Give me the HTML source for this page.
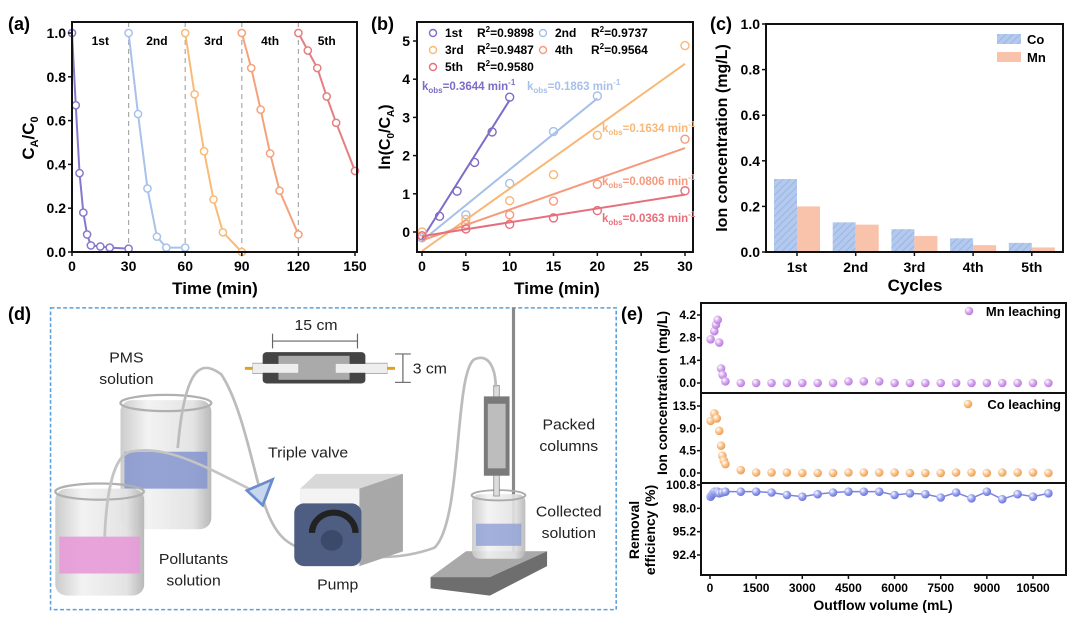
<!DOCTYPE html>
<html><head><meta charset="utf-8"><style>
html,body{margin:0;padding:0;background:#fff;}
svg{display:block;font-family:"Liberation Sans",Arial,sans-serif;}
.b{font-weight:bold;}
</style></head><body>
<svg id="fig" width="1080" height="622" viewBox="0 0 1080 622" xmlns="http://www.w3.org/2000/svg">
<defs>
<pattern id="hatch" width="5" height="5" patternUnits="userSpaceOnUse" patternTransform="rotate(45)">
<rect width="5" height="5" fill="#b3c9ee"/><line x1="0" y1="0" x2="0" y2="5" stroke="#9bb5e3" stroke-width="2"/>
</pattern>
<radialGradient id="gMn" cx="0.35" cy="0.35" r="0.7"><stop offset="0" stop-color="#fff"/><stop offset="0.5" stop-color="#d6a6ee"/><stop offset="1" stop-color="#b57ad6"/></radialGradient>
<radialGradient id="gCo" cx="0.35" cy="0.35" r="0.7"><stop offset="0" stop-color="#fff"/><stop offset="0.5" stop-color="#f9c48c"/><stop offset="1" stop-color="#ec9a4e"/></radialGradient>
<radialGradient id="gRe" cx="0.35" cy="0.35" r="0.7"><stop offset="0" stop-color="#fff"/><stop offset="0.5" stop-color="#9aa4ee"/><stop offset="1" stop-color="#6670d8"/></radialGradient>
<linearGradient id="glass" x1="0" x2="1"><stop offset="0" stop-color="#c9c9c9"/><stop offset="0.3" stop-color="#f2f2f2"/><stop offset="0.8" stop-color="#e2e2e2"/><stop offset="1" stop-color="#b5b5b5"/></linearGradient>
</defs>

<text x="8" y="30" font-size="18" class="b">(a)</text>
<text x="371" y="30" font-size="18" class="b">(b)</text>
<text x="710" y="30" font-size="18" class="b">(c)</text>
<text x="8" y="320" font-size="18" class="b">(d)</text>
<text x="621" y="320" font-size="18" class="b">(e)</text>

<g id="pa"></g>
<g id="pb"></g>
<g id="pc"></g>
<g id="pe"></g>

<g transform="translate(0,282) scale(0.395,0.369)">
<rect x="128" y="70" width="1432" height="818" fill="none" stroke="#5aa0dc" stroke-width="4" stroke-dasharray="10,6"/>
<line x1="1300" y1="70" x2="1300" y2="740" stroke="#8a8a8a" stroke-width="8"/>
<polygon points="1090,800 1180,730 1385,730 1385,770 1240,850 1090,830" fill="#6e6e6e"/>
<polygon points="1090,800 1180,730 1385,730 1240,800" fill="#a9a9a9"/>
<rect x="1195" y="575" width="135" height="175" rx="20" fill="url(#glass)" opacity="0.9"/>
<rect x="1205" y="655" width="115" height="60" fill="#8f9fd6" opacity="0.8"/>
<ellipse cx="1262" cy="578" rx="68" ry="14" fill="none" stroke="#aaa" stroke-width="5"/>
<rect x="1250" y="280" width="14" height="300" fill="#ddd" stroke="#888" stroke-width="2"/>
<rect x="1225" y="310" width="65" height="215" fill="#7a7a7a"/>
<rect x="1235" y="330" width="45" height="175" fill="#bdbdbd"/>
<rect x="305" y="320" width="230" height="350" rx="30" fill="url(#glass)" opacity="0.95"/>
<rect x="315" y="460" width="210" height="100" fill="#8494cf" opacity="0.85"/>
<ellipse cx="420" cy="328" rx="115" ry="22" fill="none" stroke="#b0b0b0" stroke-width="6"/>
<rect x="140" y="560" width="225" height="290" rx="30" fill="url(#glass)" opacity="0.95"/>
<rect x="150" y="690" width="205" height="100" fill="#e79ad8" opacity="0.9"/>
<ellipse cx="252" cy="568" rx="112" ry="22" fill="none" stroke="#b0b0b0" stroke-width="6"/>
<path d="M450,450 C470,200 520,220 560,250 C610,330 640,500 660,570 C690,680 720,720 800,730 C900,745 1000,760 1100,720 C1170,650 1150,250 1200,210 C1240,190 1255,240 1255,285" fill="none" stroke="#bcbcbc" stroke-width="7"/>
<path d="M265,690 C270,560 290,470 330,460 C420,440 520,500 630,560" fill="none" stroke="#c4c4c4" stroke-width="7"/>
<polygon points="625,565 690,535 665,605" fill="#c8d6ee" stroke="#6a8ccc" stroke-width="7"/>
<polygon points="760,560 800,520 1020,520 1020,730 910,770 760,770" fill="#d8d8d8"/>
<rect x="760" y="560" width="150" height="210" fill="#f3f3f3"/>
<polygon points="910,560 1020,520 1020,730 910,770" fill="#a8a8a8"/>
<rect x="745" y="600" width="170" height="170" rx="25" fill="#4e5e82"/>
<path d="M790,680 A55,55 0 0 1 900,680" fill="none" stroke="#222" stroke-width="16"/>
<circle cx="840" cy="700" r="28" fill="#3b4a6a"/>
<rect x="620" y="230" width="40" height="8" fill="#e0a020"/>
<rect x="975" y="230" width="25" height="8" fill="#e0a020"/>
<rect x="640" y="220" width="340" height="28" fill="#e8e8e8" stroke="#999" stroke-width="2"/>
<rect x="665" y="190" width="260" height="85" rx="10" fill="#444"/>
<rect x="705" y="200" width="180" height="65" fill="#aaa"/>
<rect x="640" y="222" width="115" height="24" fill="#eee"/>
<rect x="850" y="222" width="130" height="24" fill="#eee"/>
<line x1="690" y1="160" x2="905" y2="160" stroke="#666" stroke-width="3"/>
<line x1="690" y1="140" x2="690" y2="180" stroke="#666" stroke-width="3"/>
<line x1="905" y1="140" x2="905" y2="180" stroke="#666" stroke-width="3"/>
<line x1="1020" y1="195" x2="1020" y2="272" stroke="#666" stroke-width="3"/>
<line x1="1000" y1="195" x2="1040" y2="195" stroke="#666" stroke-width="3"/>
<line x1="1000" y1="272" x2="1040" y2="272" stroke="#666" stroke-width="3"/>
<g font-size="40" fill="#222">
<text x="800" y="130" text-anchor="middle">15 cm</text>
<text x="1045" y="248">3 cm</text>
<text x="320" y="218" text-anchor="middle">PMS</text>
<text x="320" y="276" text-anchor="middle">solution</text>
<text x="780" y="476" text-anchor="middle">Triple valve</text>
<text x="490" y="764" text-anchor="middle">Pollutants</text>
<text x="490" y="822" text-anchor="middle">solution</text>
<text x="855" y="834" text-anchor="middle">Pump</text>
<text x="1440" y="400" text-anchor="middle">Packed</text>
<text x="1440" y="458" text-anchor="middle">columns</text>
<text x="1440" y="636" text-anchor="middle">Collected</text>
<text x="1440" y="694" text-anchor="middle">solution</text>
</g>
</g>
</svg>
<script>
const NS='http://www.w3.org/2000/svg';
function mk(tag,attrs,parent){const e=document.createElementNS(NS,tag);for(const k in attrs)e.setAttribute(k,attrs[k]);parent.appendChild(e);return e;}
function tx(str,attrs,parent){const e=mk('text',attrs,parent);e.textContent=str;return e;}

const aNames=['1st','2nd','3rd','4th','5th'];
const aColors=['#8878cc','#a8c2ec','#f8bb78','#f5a27c','#e57f82'];
const aT1=[0,2,4,6,8,10,15,20,30];      const aV1=[1.0,0.67,0.36,0.18,0.08,0.03,0.025,0.02,0.015];
const aT2=[30,35,40,45,50,60];          const aV2=[1.0,0.63,0.29,0.07,0.02,0.02];
const aT3=[60,65,70,75,80,90];          const aV3=[1.0,0.72,0.46,0.24,0.09,0.0];
const aT4=[90,95,100,105,110,120];      const aV4=[1.0,0.84,0.65,0.45,0.28,0.08];
const aT5=[120,125,130,135,140,150];    const aV5=[1.0,0.92,0.84,0.71,0.59,0.37];
const aXTicks=[0,30,60,90,120,150];
const aYTicks=[0,0.2,0.4,0.6,0.8,1.0];

const bT1=[0,2,4,6,8,10];      const bV1=[-0.15,0.41,1.07,1.82,2.62,3.53];
const bT2=[0,5,10,15,20];      const bV2=[-0.15,0.45,1.27,2.63,3.56];
const bT3=[0,5,10,15,20,30];   const bV3=[0.0,0.33,0.82,1.5,2.53,4.88];
const bT4=[0,5,10,15,20,30];   const bV4=[-0.1,0.2,0.45,0.81,1.25,2.43];
const bT5=[0,5,10,15,20,30];   const bV5=[-0.1,0.08,0.2,0.37,0.56,1.08];
const bSlopes=[0.3644,0.1863,0.1634,0.0806,0.0363];
const bIntercepts=[-0.19,-0.23,-0.5,-0.22,-0.11];
const bEnds=[10,20,30,30,30];
const bR2=['0.9898','0.9737','0.9487','0.9564','0.9580'];
const bXTicks=[0,5,10,15,20,25,30];
const bYTicks=[0,1,2,3,4,5];

const cCats=['1st','2nd','3rd','4th','5th'];
const cCo=[0.32,0.13,0.10,0.06,0.04];
const cMn=[0.20,0.12,0.07,0.03,0.02];
const cYTicks=[0,0.2,0.4,0.6,0.8,1.0];

const eMnX=[20,140,195,250,300,360,410,500,1000,1500,2000,2500,3000,3500,4000,4500,5000,5500,6000,6500,7000,7500,8000,8500,9000,9500,10000,10500,11000];
const eMnY=[2.7,3.2,3.6,3.9,2.5,0.9,0.5,0.1,0,0,0,0,0,0,0,0.1,0.1,0.1,0,0,0,0,0,0,0,0,0,0,0];
const eCoX=[20,140,220,300,360,400,450,500,1000,1500,2000,2500,3000,3500,4000,4500,5000,5500,6000,6500,7000,7500,8000,8500,9000,9500,10000,10500,11000];
const eCoY=[10.5,12,11,8.5,5.5,3.5,2.5,1.8,0.6,0.1,0.1,0.1,0,0,0,0.1,0.1,0.1,0.1,0,0,0,0.1,0.1,0,0.1,0.1,0.1,0];
const eReX=[20,60,100,150,200,250,300,400,500,1000,1500,2000,2500,3000,3500,4000,4500,5000,5500,6000,6500,7000,7500,8000,8500,9000,9500,10000,10500,11000];
const eReY=[99.4,99.6,99.8,100.0,99.9,100.0,99.8,99.9,100.0,100.0,100.0,99.9,99.6,99.4,99.7,99.9,100.0,100.0,100.0,99.6,99.8,99.7,99.3,99.9,99.2,100.0,99.1,99.7,99.4,99.8];
const eXTicks=[0,1500,3000,4500,6000,7500,9000,10500];
const eY1Ticks=[0.0,1.4,2.8,4.2];
const eY2Ticks=[0.0,4.5,9.0,13.5];
const eY3Ticks=[92.4,95.2,98.0,100.8];

(function(){
const g=document.getElementById('pa');
const X0=72,X1=357,Y0=252,Y1=22;
const ax=t=>X0+t*(283/150), ay=v=>Y0-v*219;
[30,60,90,120].forEach(t=>{
 const l=mk('line',{x1:ax(t),x2:ax(t),y1:Y1,y2:Y0,stroke:'#aaa','stroke-width':1.2,'stroke-dasharray':'5,4'},g);
 
 
});
aNames.forEach((n,i)=>{
 const t=tx(n,{x:ax(15+30*i),y:45,'font-size':12,'font-weight':'bold','text-anchor':'middle'},g);
 
 
});
const Ts=[aT1,aT2,aT3,aT4,aT5],Vs=[aV1,aV2,aV3,aV4,aV5];
Ts.forEach((T,i)=>{
 const p=mk('polyline',{points:T.map((t,j)=>ax(t)+','+ay(Vs[i][j])).join(' '),fill:'none',stroke:aColors[i],'stroke-width':2},g);
 
 
 T.forEach((t,j)=>{
  const c=mk('circle',{cx:ax(t),cy:ay(Vs[i][j]),r:3.6,fill:'#fff',stroke:aColors[i],'stroke-width':1.5},g);
  
  
 });
});
const fr=mk('rect',{x:X0,y:Y1,width:X1-X0,height:Y0-Y1,fill:'none',stroke:'#111','stroke-width':2},g);


aXTicks.forEach(t=>{
 mk('line',{x1:ax(t),x2:ax(t),y1:Y0,y2:Y0+4,stroke:'#111','stroke-width':1.5},g);
 const l=tx(String(t),{x:ax(t),y:Y0+19,'font-size':14,'font-weight':'bold','text-anchor':'middle'},g);
 
 
});
aYTicks.forEach(v=>{
 mk('line',{x1:X0-4,x2:X0,y1:ay(v),y2:ay(v),stroke:'#111','stroke-width':1.5},g);
 const l=tx(v.toFixed(1),{x:X0-6,y:ay(v)+5,'font-size':14,'font-weight':'bold','text-anchor':'end'},g);
 
 
});
const xt=tx('Time (min)',{x:215,y:294,'font-size':17,'font-weight':'bold','text-anchor':'middle'},g);


const yt=mk('text',{x:0,y:0,'font-size':17,'font-weight':'bold','text-anchor':'middle',transform:'translate(34,138) rotate(-90)'},g);
yt.innerHTML='C<tspan font-size="11" dy="4">A</tspan><tspan dy="-4">/C</tspan><tspan font-size="11" dy="4">0</tspan>';


})();

(function(){
const g=document.getElementById('pb');
const X0=417,X1=693,Y0=252,Y1=22;
const bx=t=>422+t*(263/30), by=v=>232-v*38.2;
const cols=['#7e6cc6','#a6c0ea','#f7b878','#f59a7c','#e5707c'];
const names=['1st','2nd','3rd','4th','5th'];
const Ts=[bT1,bT2,bT3,bT4,bT5],Vs=[bV1,bV2,bV3,bV4,bV5];
Ts.forEach((T,i)=>{
 const l=mk('line',{x1:bx(0),y1:by(bIntercepts[i]),x2:bx(bEnds[i]),y2:by(bIntercepts[i]+bSlopes[i]*bEnds[i]),stroke:cols[i],'stroke-width':2},g);
 
 
 T.forEach((t,j)=>{
  const c=mk('circle',{cx:bx(t),cy:by(Vs[i][j]),r:4,fill:'none',stroke:cols[i],'stroke-width':1.4},g);
  
  
 });
});
const fr=mk('rect',{x:X0,y:Y1,width:X1-X0,height:Y0-Y1,fill:'none',stroke:'#111','stroke-width':2},g);


const lp=[[433,33],[543,33],[433,50],[543,50],[433,67]];
names.forEach((n,i)=>{
 const c=mk('circle',{cx:lp[i][0],cy:lp[i][1],r:3.5,fill:'none',stroke:cols[i],'stroke-width':1.4},g);
 
 
 const t=mk('text',{x:lp[i][0]+12,y:lp[i][1]+4,'font-size':12,'font-weight':'bold'},g);
 t.innerHTML=n+'<tspan x="'+(lp[i][0]+(i%2?48:44))+'">R<tspan font-size="8" dy="-5">2</tspan><tspan dy="5">='+bR2[i]+'</tspan></tspan>';
 
 
});
const kp=[[422,90],[527,90],[602,132],[602,185],[602,222]];
bSlopes.forEach((k,i)=>{
 const t=mk('text',{x:kp[i][0],y:kp[i][1],'font-size':11.5,'font-weight':'bold',fill:cols[i]},g);
 t.innerHTML='k<tspan font-size="8" dy="3">obs</tspan><tspan dy="-3">='+k.toFixed(4)+' min</tspan><tspan font-size="8" dy="-5">-1</tspan>';
 
 
});
bXTicks.forEach(t=>{
 mk('line',{x1:bx(t),x2:bx(t),y1:Y0,y2:Y0+4,stroke:'#111','stroke-width':1.5},g);
 const l=tx(String(t),{x:bx(t),y:Y0+19,'font-size':14,'font-weight':'bold','text-anchor':'middle'},g);
 
 
});
bYTicks.forEach(v=>{
 mk('line',{x1:X0-4,x2:X0,y1:by(v),y2:by(v),stroke:'#111','stroke-width':1.5},g);
 const l=tx(String(v),{x:X0-7,y:by(v)+5,'font-size':14,'font-weight':'bold','text-anchor':'end'},g);
 
 
});
const xt=tx('Time (min)',{x:557,y:294,'font-size':17,'font-weight':'bold','text-anchor':'middle'},g);


const yt=mk('text',{x:0,y:0,'font-size':16,'font-weight':'bold','text-anchor':'middle',transform:'translate(390,137) rotate(-90)'},g);
yt.innerHTML='ln(C<tspan font-size="10" dy="4">0</tspan><tspan dy="-4">/C</tspan><tspan font-size="10" dy="4">A</tspan><tspan dy="-4">)</tspan>';


})();

(function(){
const g=document.getElementById('pc');
const X0=766,X1=1063,Y0=252,Y1=24;
const cy=v=>Y0-v*228, cx=i=>797+i*58.7;
const bw=23;
cCats.forEach((c,i)=>{
 const r1=mk('rect',{x:cx(i)-bw,y:cy(cCo[i]),width:bw,height:Y0-cy(cCo[i]),fill:'url(#hatch)'},g);
 
 
 const r2=mk('rect',{x:cx(i),y:cy(cMn[i]),width:bw,height:Y0-cy(cMn[i]),fill:'#f9c2aa'},g);
 
 
 mk('line',{x1:cx(i),x2:cx(i),y1:Y0,y2:Y0+4,stroke:'#111','stroke-width':1.5},g);
 const l=tx(c,{x:cx(i),y:Y0+20,'font-size':14,'font-weight':'bold','text-anchor':'middle'},g);
 
 
});
const fr=mk('rect',{x:X0,y:Y1,width:X1-X0,height:Y0-Y1,fill:'none',stroke:'#111','stroke-width':2},g);


cYTicks.forEach(v=>{
 mk('line',{x1:X0-4,x2:X0,y1:cy(v),y2:cy(v),stroke:'#111','stroke-width':1.5},g);
 const l=tx(v.toFixed(1),{x:X0-6,y:cy(v)+5,'font-size':14,'font-weight':'bold','text-anchor':'end'},g);
 
 
});
const lg1=mk('rect',{x:997,y:34,width:24,height:10,fill:'url(#hatch)'},g);


const lg2=mk('rect',{x:997,y:52,width:24,height:10,fill:'#f9c2aa'},g);


const t1=tx('Co',{x:1027,y:44,'font-size':13,'font-weight':'bold'},g);


const t2=tx('Mn',{x:1027,y:62,'font-size':13,'font-weight':'bold'},g);


const xt=tx('Cycles',{x:915,y:291,'font-size':17,'font-weight':'bold','text-anchor':'middle'},g);


const yt=tx('Ion concentration (mg/L)',{x:0,y:0,'font-size':16,'font-weight':'bold','text-anchor':'middle',transform:'translate(727,138) rotate(-90)'},g);


})();

(function(){
const g=document.getElementById('pe');
const X0=701,X1=1066,T=303,D1=393,D2=483,B=575;
const ex=v=>710+v*(323/10500);
const ey1=v=>383-v*(68/4.2);
const ey2=v=>473-v*(67/13.5);
const ey3=v=>485+(100.8-v)*(70/8.4);
const rl=mk('polyline',{points:eReX.map((x,i)=>ex(x)+','+ey3(eReY[i])).join(' '),fill:'none',stroke:'#7c84e0','stroke-width':1.5},g);


eMnX.forEach((x,i)=>{
 const c=mk('circle',{cx:ex(x),cy:ey1(eMnY[i]),r:4.3,fill:'url(#gMn)'},g);
 
 
});
eCoX.forEach((x,i)=>{
 const c=mk('circle',{cx:ex(x),cy:ey2(eCoY[i]),r:4.3,fill:'url(#gCo)'},g);
 
 
});
eReX.forEach((x,i)=>{
 const c=mk('circle',{cx:ex(x),cy:ey3(eReY[i]),r:4.3,fill:'url(#gRe)'},g);
 
 
});
const fr=mk('rect',{x:X0,y:T,width:X1-X0,height:B-T,fill:'none',stroke:'#111','stroke-width':2},g);


[D1,D2].forEach(y=>{
 const l=mk('line',{x1:X0,x2:X1,y1:y,y2:y,stroke:'#111','stroke-width':2},g);
 
 
});
eXTicks.forEach(v=>{
 mk('line',{x1:ex(v),x2:ex(v),y1:B,y2:B+4,stroke:'#111','stroke-width':1.5},g);
 const l=tx(String(v),{x:ex(v),y:B+17,'font-size':12,'font-weight':'bold','text-anchor':'middle'},g);
 
 
});
[[eY1Ticks,ey1],[eY2Ticks,ey2],[eY3Ticks,ey3]].forEach(([ticks,f])=>{
 ticks.forEach(v=>{
  mk('line',{x1:X0-4,x2:X0,y1:f(v),y2:f(v),stroke:'#111','stroke-width':1.5},g);
  const l=tx(v.toFixed(1),{x:X0-5,y:f(v)+4,'font-size':12,'font-weight':'bold','text-anchor':'end'},g);
  
  
 });
});
const m1=mk('circle',{cx:969,cy:311,r:4.3,fill:'url(#gMn)'},g);


const l1=tx('Mn leaching',{x:1061,y:316,'font-size':13,'font-weight':'bold','text-anchor':'end'},g);


const m2=mk('circle',{cx:968,cy:404,r:4.3,fill:'url(#gCo)'},g);


const l2=tx('Co leaching',{x:1061,y:409,'font-size':13,'font-weight':'bold','text-anchor':'end'},g);


const xt=tx('Outflow volume (mL)',{x:883,y:610,'font-size':14,'font-weight':'bold','text-anchor':'middle'},g);


const y1=tx('Ion concentration (mg/L)',{x:0,y:0,'font-size':14,'font-weight':'bold','text-anchor':'middle',transform:'translate(667,393) rotate(-90)'},g);


const y2=tx('Removal',{x:0,y:0,'font-size':14,'font-weight':'bold','text-anchor':'middle',transform:'translate(639,530) rotate(-90)'},g);


const y3=tx('efficiency (%)',{x:0,y:0,'font-size':14,'font-weight':'bold','text-anchor':'middle',transform:'translate(655,530) rotate(-90)'},g);


})();
</script>
</body></html>
